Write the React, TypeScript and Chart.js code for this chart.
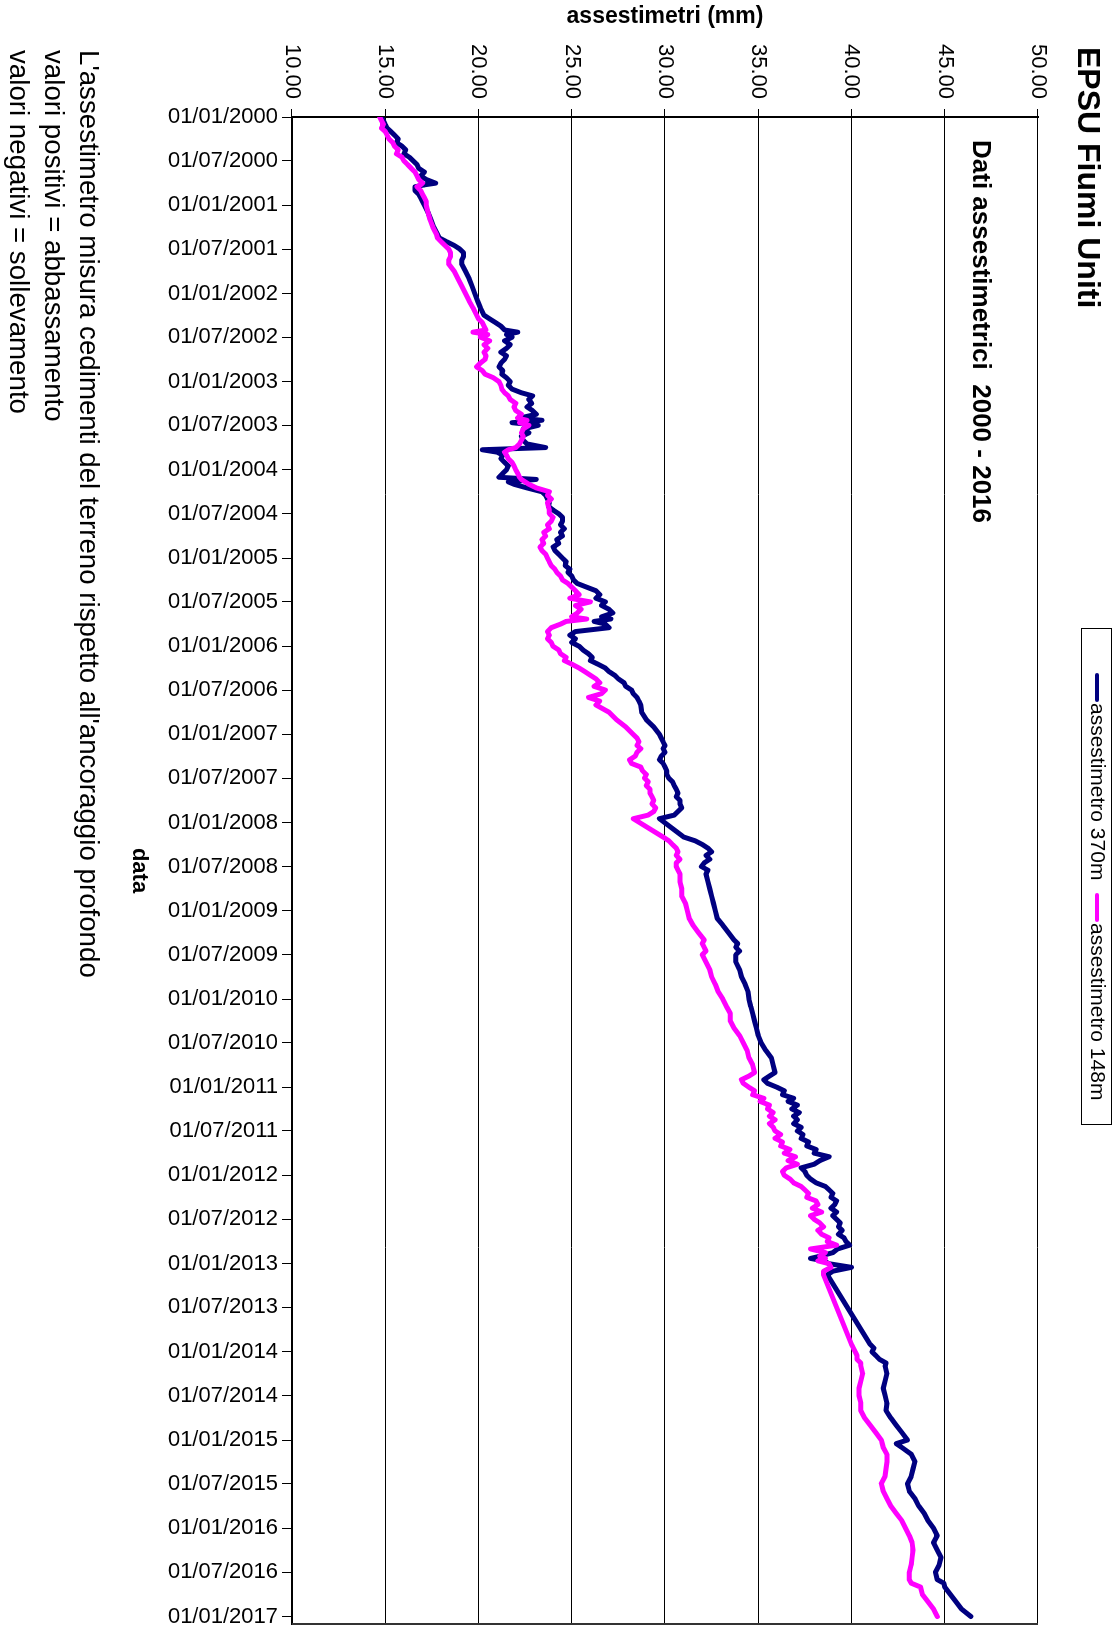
import React, { useEffect, useRef } from "react";
import { Chart, registerables } from "chart.js";

Chart.register(...registerables);

// The chart is laid out landscape and turned a quarter turn clockwise on the page.
const W = 1628;
const H = 1113;
const FONT = '"Liberation Sans", Arial, Helvetica, sans-serif';

const TITLE = "EPSU Fiumi Uniti";
const SUBTITLE = "Dati assestimetrici  2000 - 2016";
const VALUE_AXIS_TITLE = "assestimetri (mm)";
const DATE_AXIS_TITLE = "data";
const NOTES = [
  "L'assestimetro misura cedimenti del terreno rispetto all'ancoraggio profondo",
  "valori positivi = abbassamento",
  "valori negativi = sollevamento",
];

const SERIES_LABELS = ["assestimetro 370m", "assestimetro 148m"];
const SERIES_COLORS = ["#000080", "#FF00FF"];

const dateTicks = [
  "01/01/2000", "01/07/2000", "01/01/2001", "01/07/2001", "01/01/2002", "01/07/2002",
  "01/01/2003", "01/07/2003", "01/01/2004", "01/07/2004", "01/01/2005", "01/07/2005",
  "01/01/2006", "01/07/2006", "01/01/2007", "01/07/2007", "01/01/2008", "01/07/2008",
  "01/01/2009", "01/07/2009", "01/01/2010", "01/07/2010", "01/01/2011", "01/07/2011",
  "01/01/2012", "01/07/2012", "01/01/2013", "01/07/2013", "01/01/2014", "01/07/2014",
  "01/01/2015", "01/07/2015", "01/01/2016", "01/07/2016", "01/01/2017",
];
const dateAxisEnd = "01/02/2017";
const valueTicks = [10, 15, 20, 25, 30, 35, 40, 45, 50];

// Reading dates
const dates = [
  // 2000
  "2000-01-01", "2000-01-16", "2000-02-01", "2000-02-16", "2000-03-01", "2000-03-16", "2000-04-01", "2000-04-16",
  "2000-05-01", "2000-05-16", "2000-06-01", "2000-06-16", "2000-07-01", "2000-07-16", "2000-08-01", "2000-08-16",
  "2000-09-01", "2000-09-16", "2000-10-01", "2000-10-08", "2000-10-16", "2000-11-01", "2000-11-16", "2000-12-01", "2000-12-16",
  // 2001
  "2001-01-01", "2001-02-01", "2001-03-01", "2001-04-01", "2001-05-01", "2001-05-16", "2001-06-01", "2001-06-16",
  "2001-07-01", "2001-07-16", "2001-08-01", "2001-08-16", "2001-09-01", "2001-10-01", "2001-11-01", "2001-12-01",
  // 2002
  "2002-01-01", "2002-02-01", "2002-03-01", "2002-04-01", "2002-04-16", "2002-05-01", "2002-05-16", "2002-06-01",
  "2002-06-10", "2002-06-20", "2002-07-01", "2002-07-16", "2002-08-01", "2002-08-16", "2002-09-01", "2002-09-16",
  "2002-10-01", "2002-10-16", "2002-11-01", "2002-11-16", "2002-12-01", "2002-12-16",
  // 2003
  "2003-01-01", "2003-01-16", "2003-02-01", "2003-02-16", "2003-03-01", "2003-03-16", "2003-04-01", "2003-04-16",
  "2003-05-01", "2003-05-16", "2003-06-01", "2003-06-10", "2003-06-20", "2003-07-01", "2003-07-16", "2003-08-01",
  "2003-08-16", "2003-09-01", "2003-09-16", "2003-10-01", "2003-10-10", "2003-10-20", "2003-11-01", "2003-11-16",
  "2003-12-01", "2003-12-16",
  // 2004
  "2004-01-01", "2004-01-16", "2004-02-01", "2004-02-10", "2004-02-20", "2004-03-01", "2004-03-16", "2004-04-01",
  "2004-04-16", "2004-05-01", "2004-05-16", "2004-06-01", "2004-06-16", "2004-07-01", "2004-07-16", "2004-08-01",
  "2004-08-16", "2004-09-01", "2004-09-16", "2004-10-01", "2004-10-16", "2004-11-01", "2004-11-16", "2004-12-01", "2004-12-16",
  // 2005
  "2005-01-01", "2005-01-16", "2005-02-01", "2005-02-16", "2005-03-01", "2005-03-16", "2005-04-01", "2005-04-16",
  "2005-05-01", "2005-05-16", "2005-06-01", "2005-06-16", "2005-07-01", "2005-07-16", "2005-08-01", "2005-08-16",
  "2005-09-01", "2005-09-10", "2005-09-20", "2005-10-01", "2005-10-16", "2005-11-01", "2005-11-16", "2005-12-01", "2005-12-16",
  // 2006
  "2006-01-01", "2006-01-16", "2006-02-01", "2006-02-16", "2006-03-01", "2006-03-16", "2006-04-01", "2006-04-16",
  "2006-05-01", "2006-05-16", "2006-06-01", "2006-06-16", "2006-07-01", "2006-07-16", "2006-08-01", "2006-08-16",
  "2006-09-01", "2006-10-01", "2006-11-01", "2006-12-01",
  // 2007
  "2007-01-01", "2007-01-16", "2007-02-01", "2007-02-16", "2007-03-01", "2007-03-16", "2007-04-01", "2007-04-16",
  "2007-05-01", "2007-05-16", "2007-06-01", "2007-06-16", "2007-07-01", "2007-07-16", "2007-08-01", "2007-08-16",
  "2007-09-01", "2007-09-16", "2007-10-01", "2007-10-16", "2007-11-01", "2007-11-16", "2007-12-01", "2007-12-16",
  // 2008
  "2008-03-01", "2008-03-16", "2008-04-01", "2008-04-16", "2008-05-01", "2008-05-16", "2008-06-01", "2008-06-16",
  "2008-07-01", "2008-07-16", "2008-08-01", "2008-09-01", "2008-10-01", "2008-11-01", "2008-12-01",
  // 2009
  "2009-01-01", "2009-02-01", "2009-03-01", "2009-04-01", "2009-05-01", "2009-05-16", "2009-06-01", "2009-06-16",
  "2009-07-01", "2009-08-01", "2009-09-01", "2009-10-01", "2009-11-01", "2009-12-01",
  // 2010
  "2010-01-01", "2010-02-01", "2010-03-01", "2010-04-01", "2010-05-01", "2010-06-01", "2010-07-01", "2010-08-01",
  "2010-09-01", "2010-10-01", "2010-11-01", "2010-11-16", "2010-12-01", "2010-12-16",
  // 2011
  "2011-01-01", "2011-01-16", "2011-02-01", "2011-02-16", "2011-03-01", "2011-03-16", "2011-04-01", "2011-04-16",
  "2011-05-01", "2011-05-16", "2011-06-01", "2011-06-16", "2011-07-01", "2011-07-16", "2011-08-01", "2011-08-16",
  "2011-09-01", "2011-09-16", "2011-10-01", "2011-10-16", "2011-11-01", "2011-11-16", "2011-12-01", "2011-12-16",
  // 2012
  "2012-01-01", "2012-01-16", "2012-02-01", "2012-02-16", "2012-03-01", "2012-03-16", "2012-04-01", "2012-04-16",
  "2012-05-01", "2012-05-16", "2012-06-01", "2012-06-16", "2012-07-01", "2012-07-16", "2012-08-01", "2012-08-16",
  "2012-09-01", "2012-09-16", "2012-10-01", "2012-10-16", "2012-11-01", "2012-11-16", "2012-12-01", "2012-12-10", "2012-12-20",
  // 2013
  "2013-01-01", "2013-01-16", "2013-02-01", "2013-02-16", "2013-12-01", "2013-12-16",
  // 2014
  "2014-01-01", "2014-01-16", "2014-02-01", "2014-02-16", "2014-03-01", "2014-04-01", "2014-05-01", "2014-06-01",
  "2014-07-01", "2014-08-01", "2014-09-01", "2014-10-01", "2014-11-01", "2014-12-01",
  // 2015
  "2015-01-01", "2015-01-16", "2015-02-01", "2015-03-01", "2015-04-01", "2015-05-01", "2015-06-01", "2015-07-01",
  "2015-08-01", "2015-09-01", "2015-10-01", "2015-11-01", "2015-12-01",
  // 2016
  "2016-01-01", "2016-02-01", "2016-03-01", "2016-04-01", "2016-05-01", "2016-06-01", "2016-07-01", "2016-08-01",
  "2016-08-16", "2016-09-01", "2016-10-01", "2016-11-01", "2016-12-01",
  // 2017
  "2017-01-01",
];

// assestimetro 370m (mm)
const assestimetro370 = [
  // 2000
  14.8, 14.9, 15.0, 15.1, 15.3, 15.5, 15.7, 15.6,
  15.9, 16.1, 16.0, 16.3, 16.5, 16.7, 16.8, 17.1,
  16.9, 17.2, 17.7, 17.1, 16.6, 16.6, 16.8, 16.9, 17.0,
  // 2001
  17.1, 17.3, 17.45, 17.6, 17.8, 17.9, 18.3, 18.7,
  19.0, 19.2, 19.2, 19.1, 19.1, 19.3, 19.5, 19.65,
  // 2002
  19.8, 19.95, 20.1, 20.3, 20.6, 20.9, 21.2, 21.4,
  22.1, 21.5, 21.8, 21.4, 21.7, 21.5, 21.2, 21.5,
  21.4, 21.2, 21.1, 21.3, 21.25, 21.5,
  // 2003
  21.7, 21.6, 21.8, 22.3, 22.9, 22.7, 22.85, 22.6,
  22.9, 23.1, 22.2, 23.4, 21.8, 23.2, 22.4, 22.7,
  22.3, 22.4, 22.6, 23.6, 20.2, 21.0, 21.3, 21.2,
  21.4, 21.6,
  // 2004
  21.5, 21.3, 21.1, 23.1, 21.6, 21.9, 22.6, 23.4,
  23.6, 23.7, 23.8, 23.75, 24.0, 24.3, 24.5, 24.5,
  24.4, 24.6, 24.4, 24.5, 24.2, 24.3, 24.0, 24.1, 24.3,
  // 2005
  24.5, 24.7, 24.65, 24.9, 24.8, 25.0, 25.1, 25.3,
  25.8, 26.3, 26.5, 26.3, 26.8, 26.6, 27.0, 27.2,
  26.6, 27.1, 26.2, 26.8, 27.0, 25.2, 24.9, 25.2, 25.0,
  // 2006
  25.4, 25.6, 25.9, 26.1, 26.0, 26.4, 26.8, 27.0,
  27.3, 27.5, 27.8, 27.9, 28.2, 28.3, 28.5, 28.6,
  28.7, 28.75, 29.0, 29.4,
  // 2007
  29.7, 29.8, 29.9, 30.0, 29.9, 30.0, 29.8, 29.7,
  29.9, 30.0, 30.1, 30.1, 30.2, 30.4, 30.5, 30.6,
  30.7, 30.6, 30.8, 30.8, 30.9, 30.7, 30.5, 29.7,
  // 2008
  31.0, 31.6, 32.0, 32.3, 32.5, 32.2, 32.4, 32.1,
  31.95, 32.3, 32.2, 32.3, 32.4, 32.5, 32.6,
  // 2009
  32.7, 32.8, 33.1, 33.4, 33.7, 33.9, 33.8, 34.0,
  33.8, 33.8, 34.0, 34.1, 34.3, 34.45,
  // 2010
  34.5, 34.6, 34.7, 34.8, 34.9, 35.0, 35.15, 35.4,
  35.7, 35.8, 35.9, 35.6, 35.3, 35.5,
  // 2011
  36.0, 36.4, 36.3, 36.9, 36.6, 37.1, 36.8, 37.2,
  36.9, 37.1, 36.9, 37.3, 37.1, 37.4, 37.3, 37.7,
  37.6, 38.1, 38.0, 38.8, 38.3, 38.0, 37.3, 37.5,
  // 2012
  37.6, 37.8, 38.1, 38.6, 38.8, 39.0, 38.9, 39.2,
  39.1, 38.9, 39.2, 39.0, 39.2, 39.4, 39.3, 39.5,
  39.3, 39.6, 39.7, 39.9, 39.25, 39.0, 38.3, 37.8, 38.5,
  // 2013
  38.8, 40.0, 39.0, 38.7, 41.0, 41.2,
  // 2014
  41.1, 41.3, 41.5, 41.85, 41.8, 41.9, 41.8, 41.7,
  41.8, 41.9, 41.85, 42.1, 42.4, 42.7,
  // 2015
  43.0, 42.4, 42.7, 43.2, 43.4, 43.3, 43.2, 43.0,
  43.1, 43.4, 43.6, 43.9, 44.1,
  // 2016
  44.4, 44.6, 44.4, 44.6, 44.8, 44.7, 44.5, 44.6,
  44.95, 45.0, 45.3, 45.6, 45.9,
  // 2017
  46.4,
];

// assestimetro 148m (mm)
const assestimetro148 = [
  // 2000
  14.7, 14.8, 14.9, 14.8, 15.0, 15.1, 15.2, 15.4,
  15.5, 15.7, 15.6, 15.9, 16.0, 16.2, 16.4, 16.6,
  16.7, 16.8, 17.0, 16.9, 16.7, 16.9, 17.0, 17.1, 17.2,
  // 2001
  17.2, 17.3, 17.4, 17.55, 17.75, 17.8, 18.0, 18.2,
  18.4, 18.5, 18.5, 18.4, 18.4, 18.7, 18.9, 19.1,
  // 2002
  19.3, 19.5, 19.7, 19.9, 20.0, 20.2, 20.3, 20.4,
  19.7, 20.5, 20.1, 20.6, 20.3, 20.5, 20.3, 20.4,
  20.35, 20.1, 19.9, 20.2, 20.35, 20.8,
  // 2003
  21.1, 21.2, 21.25, 21.4, 21.6, 21.7, 22.0, 21.9,
  22.0, 22.3, 22.1, 22.6, 22.2, 22.7, 22.4, 22.3,
  22.4, 22.3, 22.2, 22.0, 21.6, 21.4, 21.5, 21.6,
  21.8, 21.9,
  // 2004
  22.0, 22.1, 22.2, 22.3, 22.5, 22.7, 23.1, 23.8,
  23.7, 23.9, 23.7, 23.75, 23.8, 23.8, 24.0, 23.9,
  23.7, 23.8, 23.5, 23.6, 23.4, 23.5, 23.3, 23.4, 23.6,
  // 2005
  23.7, 23.8, 23.9, 24.1, 24.2, 24.4, 24.5, 24.8,
  25.0, 25.2, 25.4, 24.9, 26.0, 25.2, 25.5, 25.3,
  25.0, 25.8, 24.7, 24.4, 23.9, 23.7, 23.8, 23.7, 23.9,
  // 2006
  24.0, 24.3, 24.4, 24.7, 24.6, 25.0, 25.4, 25.7,
  26.0, 26.3, 26.5, 26.2, 26.8, 26.6, 25.9, 26.5,
  26.3, 27.0, 27.4, 27.9,
  // 2007
  28.3, 28.5, 28.6, 28.5, 28.7, 28.5, 28.4, 28.1,
  28.2, 28.7, 28.8, 29.0, 28.9, 29.1, 29.0, 29.2,
  29.2, 29.3, 29.4, 29.3, 29.5, 29.4, 29.1, 28.3,
  // 2008
  29.9, 30.2, 30.4, 30.6, 30.7, 30.6, 30.8, 30.6,
  30.6, 30.7, 30.8, 30.8, 30.9, 30.9, 31.1,
  // 2009
  31.2, 31.3, 31.5, 31.8, 32.1, 32.0, 32.1, 32.2,
  32.0, 32.2, 32.4, 32.5, 32.7, 32.85,
  // 2010
  33.1, 33.3, 33.5, 33.5, 33.7, 34.0, 34.2, 34.4,
  34.5, 34.7, 34.8, 34.5, 34.1, 34.2,
  // 2011
  34.5, 34.8, 34.7, 35.3, 35.1, 35.6, 35.5, 35.8,
  35.6, 35.9, 35.6, 35.8, 35.9, 36.2, 35.9, 36.3,
  36.2, 36.7, 36.4, 37.0, 36.6, 37.1, 36.5, 36.3,
  // 2012
  36.4, 36.7, 36.9, 37.3, 37.5, 37.7, 37.6, 38.1,
  38.2, 37.9, 38.4, 37.8, 38.0, 38.3, 38.5, 38.2,
  38.4, 38.8, 38.7, 39.2, 37.8, 38.6, 38.3, 38.6, 38.2,
  // 2013
  38.8, 38.9, 38.5, 38.5, 40.0, 40.1,
  // 2014
  40.2, 40.3, 40.3, 40.5, 40.5, 40.6, 40.5, 40.4,
  40.4, 40.5, 40.5, 40.7, 41.0, 41.3,
  // 2015
  41.6, 41.65, 41.7, 41.9, 41.9, 41.85, 41.8, 41.6,
  41.7, 41.9, 42.1, 42.4, 42.7,
  // 2016
  42.9, 43.1, 43.25, 43.3, 43.25, 43.2, 43.1, 43.1,
  43.2, 43.7, 43.8, 44.1, 44.4,
  // 2017
  44.6,
];

const isoToTime = (s: string) => {
  const [y, m, d] = s.split("-").map(Number);
  return Date.UTC(y, m - 1, d);
};
const dmyToTime = (s: string) => {
  const [d, m, y] = s.split("/").map(Number);
  return Date.UTC(y, m - 1, d);
};

const toPoints = (values: number[]) => dates.map((d, i) => ({ x: isoToTime(d), y: values[i] }));

// Legend entry anchors (start of each line sample) along the top band.
const LEGEND_BOX = { x: 628, w: 496 };
const LEGEND_ITEMS_X = [675, 895];

// Frame edge, titles, legend box and the explanatory notes.
const decorations = {
  id: "decorations",
  afterDraw(chart: any) {
    const { ctx, chartArea: a } = chart;
    ctx.save();

    ctx.strokeStyle = "#333";
    ctx.lineWidth = 2;
    ctx.beginPath();
    ctx.moveTo(a.right, a.top);
    ctx.lineTo(a.right, a.bottom);
    ctx.stroke();

    ctx.fillStyle = "#000";
    ctx.textAlign = "left";
    ctx.textBaseline = "middle";
    ctx.font = `bold 32px ${FONT}`;
    ctx.fillText(TITLE, 47, 26);

    ctx.font = `bold 26px ${FONT}`;
    ctx.fillText(SUBTITLE, a.left + 23, chart.scales.y.getPixelForValue(46.9));

    // legend
    ctx.lineWidth = 1;
    ctx.strokeStyle = "#000";
    ctx.strokeRect(LEGEND_BOX.x + 0.5, 1.5, LEGEND_BOX.w, 30);
    ctx.font = `21px ${FONT}`;
    const cy = 16;
    chart.data.datasets.forEach((ds: any, i: number) => {
      const x = LEGEND_ITEMS_X[i];
      ctx.strokeStyle = ds.borderColor;
      ctx.lineWidth = 4;
      ctx.lineCap = "round";
      ctx.beginPath();
      ctx.moveTo(x, cy);
      ctx.lineTo(x + 25, cy);
      ctx.stroke();
      ctx.fillStyle = "#000";
      ctx.fillText(ds.label, x + 28, cy);
    });

    ctx.font = `27.7px ${FONT}`;
    NOTES.forEach((line, i) => ctx.fillText(line, 50, 1025 + i * 35));

    ctx.restore();
  },
};

export default function App() {
  const ref = useRef<HTMLCanvasElement>(null);

  useEffect(() => {
    if (!ref.current) return;
    const chart = new Chart(ref.current, {
      type: "line",
      data: {
        datasets: [
          {
            label: SERIES_LABELS[0],
            data: toPoints(assestimetro370),
            borderColor: SERIES_COLORS[0],
            backgroundColor: SERIES_COLORS[0],
            borderWidth: 5,
            pointRadius: 0,
            tension: 0,
            borderJoinStyle: "round",
            borderCapStyle: "round",
            order: 1,
          },
          {
            label: SERIES_LABELS[1],
            data: toPoints(assestimetro148),
            borderColor: SERIES_COLORS[1],
            backgroundColor: SERIES_COLORS[1],
            borderWidth: 5,
            pointRadius: 0,
            tension: 0,
            borderJoinStyle: "round",
            borderCapStyle: "round",
            order: 0,
          },
        ],
      },
      options: {
        responsive: false,
        animation: false,
        events: [],
        layout: { padding: { left: 0, top: 75, right: 4, bottom: 122 } },
        plugins: {
          legend: { display: false },
          tooltip: { enabled: false },
          title: { display: false },
        },
        scales: {
          x: {
            type: "linear",
            position: "bottom",
            min: dmyToTime(dateTicks[0]),
            max: dmyToTime(dateAxisEnd),
            afterBuildTicks: (scale: any) => {
              scale.ticks = dateTicks.map((d) => ({ value: dmyToTime(d) }));
            },
            afterFit: (scale: any) => {
              scale.height = 170;
              scale.paddingLeft = 0;
              scale.paddingRight = 0;
            },
            ticks: {
              autoSkip: false,
              minRotation: 90,
              maxRotation: 90,
              padding: 4,
              color: "#000",
              font: { family: FONT, size: 22 },
              callback: (_v: any, i: number) => dateTicks[i],
            },
            grid: { drawOnChartArea: false, drawTicks: true, tickLength: 10, color: "#000", lineWidth: 1 },
            border: { display: true, color: "#000", width: 2 },
            title: {
              display: true,
              text: DATE_AXIS_TITLE,
              color: "#000",
              font: { family: FONT, size: 22, weight: "bold" },
              padding: { top: 4, bottom: 4 },
            },
          },
          y: {
            type: "linear",
            min: valueTicks[0],
            max: valueTicks[valueTicks.length - 1],
            afterBuildTicks: (scale: any) => {
              scale.ticks = valueTicks.map((v) => ({ value: v }));
            },
            afterFit: (scale: any) => {
              scale.width = 117;
              scale.paddingTop = 0;
              scale.paddingBottom = 0;
            },
            ticks: {
              padding: 10,
              color: "#000",
              font: { family: FONT, size: 22 },
              callback: (v: any) => Number(v).toFixed(2),
            },
            grid: { color: "#000", lineWidth: 1, drawTicks: true, tickLength: 8 },
            border: { display: true, color: "#000", width: 2 },
            title: {
              display: true,
              text: VALUE_AXIS_TITLE,
              color: "#000",
              font: { family: FONT, size: 23, weight: "bold" },
              padding: { top: 3, bottom: 3 },
            },
          },
        },
      },
      plugins: [decorations],
    } as any);
    return () => chart.destroy();
  }, []);

  return (
    <div
      style={{
        position: "fixed",
        left: 0,
        top: 0,
        width: H,
        height: W,
        overflow: "hidden",
        background: "#fff",
      }}
    >
      <div
        style={{
          position: "absolute",
          left: 0,
          top: 0,
          width: W,
          height: H,
          transformOrigin: "0 0",
          transform: `translate(${H}px, 0) rotate(90deg)`,
        }}
      >
        <canvas ref={ref} width={W} height={H} style={{ display: "block", width: W, height: H }} />
      </div>
    </div>
  );
}
